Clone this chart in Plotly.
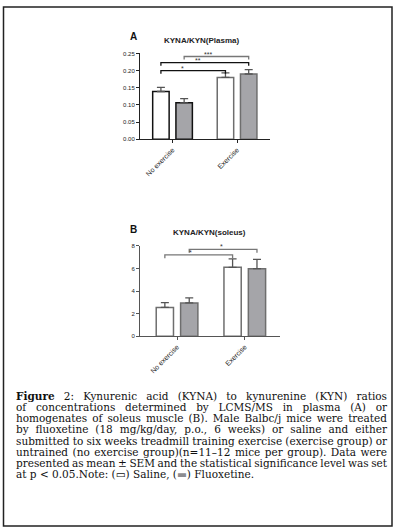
import plotly.graph_objects as go

# ---------------- data ----------------
groups = ["No exercise", "Exercise"]
series_names = ["Saline", "Fluoxetine"]

plasma_saline = [0.139, 0.180]
plasma_saline_sem = [0.012, 0.013]
plasma_fluox = [0.106, 0.190]
plasma_fluox_sem = [0.012, 0.013]

soleus_saline = [2.55, 6.10]
soleus_saline_sem = [0.42, 0.75]
soleus_fluox = [2.95, 5.98]
soleus_fluox_sem = [0.45, 0.82]

plasma_ticks = [0.00, 0.05, 0.10, 0.15, 0.20, 0.25]
soleus_ticks = [0, 2, 4, 6, 8]

# significance brackets: (from bar, to bar, height, label, label x)
# bars indexed as (group, series)
plasma_sig = [((0, 0), (1, 0), 0.200, "*", 0.16),
              ((0, 0), (1, 1), 0.223, "**", 0.40),
              ((0, 1), (1, 1), 0.241, "***", 0.55)]
soleus_sig = [((0, 0), (1, 0), 7.20, "*", 0.20),
              ((0, 1), (1, 1), 7.70, "*", 0.65)]

caption_lines = [
    "<b>Figure</b> 2: Kynurenic acid (KYNA) to kynurenine (KYN) ratios",
    "of concentrations determined by LCMS/MS in plasma (A) or",
    "homogenates of soleus muscle (B). Male Balbc/j mice were treated",
    "by fluoxetine (18 mg/kg/day, p.o., 6 weeks) or saline and either",
    "submitted to six weeks treadmill training exercise (exercise group) or",
    "untrained (no exercise group)(n=11–12 mice per group). Data were",
    "presented as mean ± SEM and the statistical significance level was set",
    "at p &lt; 0.05.Note: (▭) Saline, (<span style='color:#8c8c90'>▬</span>) Fluoxetine.",
]

# ---------------- styling ----------------
W, H = 395, 532
OFF = 0.18
BW = 0.255
GRAY = "#a5a5a9"
OUT_GRAY = "#6e6e6e"
xpos = [0, 1]
CAP_LEFT, CAP_RIGHT = 14, 385

def px(x):
    return x / W

def py(y):
    return 1 - y / H

fig = go.Figure()

def add_panel(sal, sal_e, flu, flu_e, xa, ya, outline_sal, outline_flu):
    fig.add_trace(go.Bar(
        x=[p - OFF for p in xpos], y=sal, width=BW, name=series_names[0],
        marker=dict(color="white", line=dict(color=outline_sal, width=1.5)),
        error_y=dict(type="data", symmetric=False, array=sal_e,
                     arrayminus=[0] * len(sal), color="#555", thickness=1.3, width=4),
        xaxis=xa, yaxis=ya, showlegend=False, hoverinfo="skip"))
    fig.add_trace(go.Bar(
        x=[p + OFF for p in xpos], y=flu, width=BW, name=series_names[1],
        marker=dict(color=GRAY, line=dict(color=outline_flu, width=1.5)),
        error_y=dict(type="data", symmetric=False, array=flu_e,
                     arrayminus=[0] * len(flu), color="#555", thickness=1.3, width=4),
        xaxis=xa, yaxis=ya, showlegend=False, hoverinfo="skip"))

add_panel(plasma_saline, plasma_saline_sem, plasma_fluox, plasma_fluox_sem,
          "x", "y", ["#111", OUT_GRAY], ["#111", OUT_GRAY])
add_panel(soleus_saline, soleus_saline_sem, soleus_fluox, soleus_fluox_sem,
          "x2", "y2", [OUT_GRAY, OUT_GRAY], [OUT_GRAY, OUT_GRAY])

def bar_x(b):
    g, s = b
    return xpos[g] + (-OFF if s == 0 else OFF)

def add_brackets(sig, xr, yr, drop, colors):
    for (b1, b2, h, lab, lx), col in zip(sig, colors):
        x1, x2 = bar_x(b1), bar_x(b2)
        fig.add_shape(type="path",
                      path=f"M {x1} {h - drop} L {x1} {h} L {x2} {h} L {x2} {h - drop}",
                      xref=xr, yref=yr, line=dict(color=col, width=1.3))
        fig.add_annotation(x=lx, y=h, xref=xr, yref=yr, text=lab, showarrow=False,
                           yanchor="bottom", yshift=-3,
                           font=dict(family="Liberation Sans", size=7, color="#333"))

add_brackets(plasma_sig, "x", "y", 0.009, ["#111", "#111", "#777"])
add_brackets(soleus_sig, "x2", "y2", 0.3, ["#777", "#777"])

axis_font = dict(family="Liberation Sans", size=6, color="#222")
cat_font = dict(family="Liberation Sans", size=7, color="#222")

fig.update_layout(
    width=W, height=H, margin=dict(l=0, r=0, t=0, b=0),
    paper_bgcolor="white", plot_bgcolor="white", barmode="overlay",
    xaxis=dict(domain=[px(140), px(270)], range=[-0.504, 1.51],
               tickvals=xpos, ticktext=groups, tickangle=-45, tickfont=cat_font,
               showline=True, linecolor="#222", linewidth=1, ticks="outside",
               ticklen=3, tickcolor="#222", showgrid=False, zeroline=False,
               anchor="y", fixedrange=True),
    yaxis=dict(domain=[py(137.7), py(51)], range=[0, 0.25],
               tickvals=plasma_ticks, ticktext=[f"{t:.2f}" for t in plasma_ticks],
               tickfont=axis_font, showline=True, linecolor="#222", linewidth=1,
               ticks="outside", ticklen=3, tickcolor="#222", showgrid=False,
               zeroline=False, anchor="x", fixedrange=True),
    xaxis2=dict(domain=[px(140), px(280)], range=[-0.547, 1.52],
                tickvals=xpos, ticktext=groups, tickangle=-45, tickfont=cat_font,
                showline=True, linecolor="#555", linewidth=1, ticks="outside",
                ticklen=3, tickcolor="#555", showgrid=False, zeroline=False,
                anchor="y2", fixedrange=True),
    yaxis2=dict(domain=[py(337), py(245.7)], range=[0, 8],
                tickvals=soleus_ticks, ticktext=[str(t) for t in soleus_ticks],
                tickfont=axis_font, showline=True, linecolor="#555", linewidth=1,
                ticks="outside", ticklen=3, tickcolor="#555", showgrid=False,
                zeroline=False, anchor="x2", fixedrange=True),
)

# panel letters and titles
for letter, lx, ly in [("A", 133, 34), ("B", 133, 229)]:
    fig.add_annotation(x=px(lx), y=py(ly), xref="paper", yref="paper", text=f"<b>{letter}</b>",
                       showarrow=False, xanchor="center", yanchor="middle",
                       font=dict(family="Liberation Sans", size=10, color="#111"))
for title, tx, ty in [("KYNA/KYN(Plasma)", 201.7, 38.3), ("KYNA/KYN(soleus)", 210, 232)]:
    fig.add_annotation(x=px(tx), y=py(ty), xref="paper", yref="paper", text=f"<b>{title}</b>",
                       showarrow=False, xanchor="center", yanchor="middle",
                       font=dict(family="Liberation Sans", size=8, color="#222"))

# caption (justified in the page via word-spacing, last line left as is)
n_before = len(fig.layout.annotations)
line_y0, line_dy = 397.3, 11.3
for i, line in enumerate(caption_lines):
    fig.add_annotation(x=px(CAP_LEFT), y=py(line_y0 + i * line_dy), xref="paper", yref="paper",
                       text=line, showarrow=False, xanchor="left", yanchor="middle",
                       align="left",
                       font=dict(family="DejaVu Serif", size=10.5, color="#111"))

# outer frame
fig.add_shape(type="rect", xref="paper", yref="paper",
              x0=px(3.5), x1=px(392), y0=py(529), y1=py(4),
              line=dict(color="#222", width=1.5))

justify_js = f"""
document.body.style.margin='0';document.body.style.padding='0';
document.body.style.overflow='hidden';
var texts = document.querySelectorAll('g.annotation text.annotation-text');
var start = {n_before}, n = {len(caption_lines)}, target = {CAP_RIGHT - CAP_LEFT};
for (var i = start; i < start + n - 1; i++) {{
  var el = texts[i];
  if (!el) continue;
  var w = el.getComputedTextLength();
  var s = (el.textContent.match(/ /g) || []).length;
  if (s > 0) {{
    el.style.wordSpacing = ((target - w) / s) + 'px';
  }}
}}
"""

fig.write_html("out.html", config={"displayModeBar": False, "staticPlot": True},
               post_script=justify_js)
